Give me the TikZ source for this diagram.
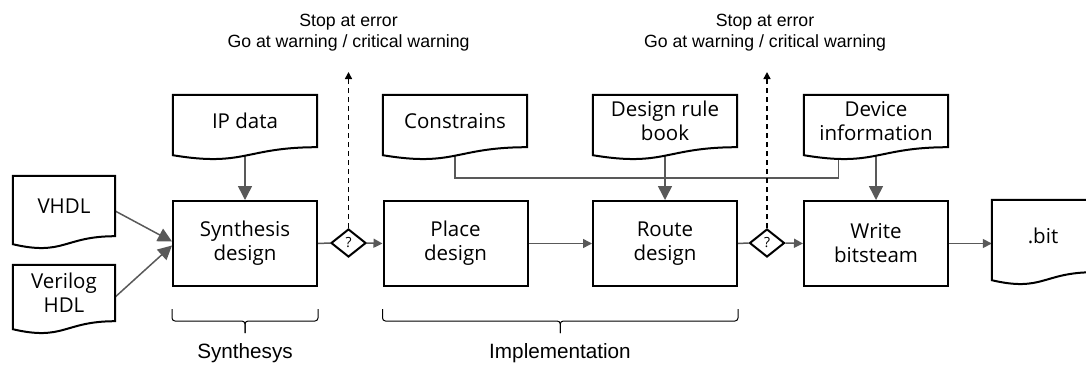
\documentclass[tikz,border=0pt]{standalone}
\usepackage{fontspec}
\usetikzlibrary{arrows.meta,shapes.geometric,calc}
\newfontfamily\boxfont{Open Sans}
\newfontfamily\notefont{Liberation Sans}
\definecolor{linkgray}{HTML}{595959}

\pgfdeclarelayer{links}
\pgfdeclarelayer{sheets}
\pgfsetlayers{links,sheets,main}

\tikzset{
  procbox/.style={draw=black, line width=2pt, fill=white, minimum width=144pt,
    minimum height=85pt, inner sep=0pt, align=center,
    font=\boxfont\fontsize{20.5}{24}\selectfont},
  docnode/.style={inner sep=0pt, align=center,
    font=\boxfont\fontsize{20.5}{24}\selectfont},
  docline/.style={draw=black, line width=2pt, fill=white, line join=miter},
  decision/.style={diamond, draw=black, line width=2pt, fill=white,
    minimum width=35pt, minimum height=28pt, inner sep=0pt,
    font=\boxfont\fontsize{14}{14}\selectfont},
  feed/.style={draw=linkgray, line width=1.5pt},
  bigarrow/.style={feed, -{Triangle[length=14pt,width=14pt]}},
  smallarrow/.style={feed, -{Triangle[length=9pt,width=9pt]}},
  escape/.style={draw=black, line width=1.5pt, dash pattern=on 5pt off 4pt,
    -{Triangle[length=7pt,width=7pt]}},
  note/.style={align=center, font=\notefont\fontsize{17.7}{21}\selectfont},
  phase/.style={font=\notefont\fontsize{20.7}{24}\selectfont},
  bracket/.style={draw=black, line width=1pt, rounded corners=3pt},
}

% document sheet outline with a wavy lower edge
\newcommand\docoutline[1]{%
  \begin{pgfonlayer}{sheets}
  \path[docline] (#1.south east) -- (#1.north east) -- (#1.north west)
    -- ($(#1.south west)+(0,8)$)
    .. controls ($(#1.south west)!0.5!(#1.south east)+(0,20)$)
    and ($(#1.south west)!0.5!(#1.south east)$) .. (#1.south east) -- cycle;
  \end{pgfonlayer}}

\begin{document}
\begin{tikzpicture}[x=1pt,y=-1pt]
\useasboundingbox (0,0) rectangle (1086,365);
\clip (0,0) rectangle (1086,365);

% source documents
\node[docnode, minimum width=102pt, minimum height=60pt] (vhdl) at (64,206) {VHDL};
\node[docnode, minimum width=102pt, minimum height=56pt] (verilog) at (64,293) {Verilog\\HDL};
\node[docnode, minimum width=144pt, minimum height=52pt] (ip) at (245,121) {IP data};
\node[docnode, minimum width=144pt, minimum height=52pt] (cons) at (455,121) {Constrains};
\node[docnode, minimum width=144pt, minimum height=52pt] (drb) at (665,121) {Design rule\\book};
\node[docnode, minimum width=144pt, minimum height=52pt] (dev) at (876,121) {Device\\information};
\node[docnode, minimum width=102pt, minimum height=72pt] (bit) at (1043,236) {.bit};

\docoutline{vhdl}
\docoutline{verilog}
\docoutline{ip}
\docoutline{cons}
\docoutline{drb}
\docoutline{dev}
\docoutline{bit}

% process steps
\node[procbox] (synth) at (245,243.5) {Synthesis\\design};
\node[procbox] (place) at (455.5,243.5) {Place\\design};
\node[procbox] (route) at (665,243.5) {Route\\design};
\node[procbox] (write) at (876,243.5) {Write\\bitsteam};

% checkpoints
\node[decision] (chk1) at (348.5,243) {?};
\node[decision] (chk2) at (767,243) {?};

% notes
\node[note] (stop1) at (348.5,32.5) {Stop at error\\Go at warning / critical warning};
\node[note] (stop2) at (765,32.5) {Stop at error\\Go at warning / critical warning};
\coordinate (exit1) at (348.5,72);
\coordinate (exit2) at (767,72);

% phase labels
\node[phase] (synlbl) at (245,353) {Synthesys};
\node[phase] (impllbl) at (560,353) {Implementation};

\begin{pgfonlayer}{links}
\draw[bigarrow] ($(vhdl.east)+(0,5)$) -- ($(synth.west)+(0,-2)$);
\draw[bigarrow] ($(verilog.east)+(0,4)$) -- ($(synth.west)+(0,2)$);
\draw[bigarrow] (ip.south) -- (synth.north);
\draw[feed] (synth.east) -- (chk1.west);
\draw[smallarrow] (chk1.east) -- (place.west);
\draw[smallarrow] (place.east) -- (route.west);
\draw[feed] (route.east) -- (chk2.west);
\draw[smallarrow] (chk2.east) -- (write.west);
\draw[smallarrow] (write.east) -- (bit.west |- write.east);
\draw[bigarrow] (drb.south) -- (route.north);
\draw[bigarrow] (dev.south) -- (write.north);
\coordinate (busL) at ($(cons.south)+(0,31)$);
\coordinate (busR) at ($(dev.south west)!0.24!(dev.south east)$);
\draw[feed] (cons.south) -- (busL) -| (busR);
\end{pgfonlayer}

\draw[escape] (chk1.north) -- (exit1);
\draw[escape] (chk2.north) -- (exit2);

% phase brackets
\draw[bracket] ($(synth.south west)+(0,22)$) -- ($(synth.south west)+(0,34)$)
  -- ($(synth.south)+(0,34)$) -- ($(synth.south)+(0,46)$);
\draw[bracket] ($(synth.south east)+(0,22)$) -- ($(synth.south east)+(0,34)$)
  -- ($(synth.south)+(0,34)$) -- ($(synth.south)+(0,46)$);
\coordinate (implmid) at ($(place.south west)!0.5!(route.south east)$);
\draw[bracket] ($(place.south west)+(0,22)$) -- ($(place.south west)+(0,34)$)
  -- ($(implmid)+(0,34)$) -- ($(implmid)+(0,46)$);
\draw[bracket] ($(route.south east)+(0,22)$) -- ($(route.south east)+(0,34)$)
  -- ($(implmid)+(0,34)$) -- ($(implmid)+(0,46)$);
\end{tikzpicture}
\end{document}
